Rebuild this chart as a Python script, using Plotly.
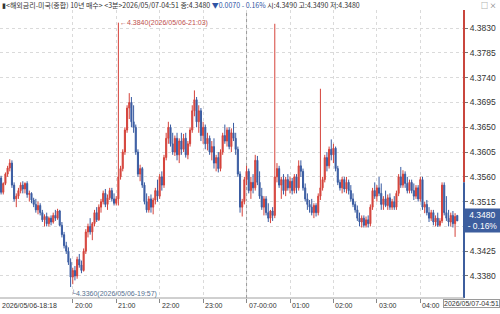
import numpy as np
import pandas as pd
import plotly.graph_objects as go

# ---------------- data ----------------
start_time = "2026-05-06 18:18"
n_bars = 212
prev_close = 4.3550

opens = [
    4.3545,4.3558,4.3532,4.3548,4.3565,4.3576,4.3585,4.3545,4.3520,4.3525,
    4.3535,4.3545,4.3538,4.3548,4.3528,4.3530,4.3518,4.3510,4.3500,4.3508,
    4.3495,4.3482,4.3488,4.3475,4.3485,4.3478,4.3490,4.3485,4.3498,4.3472,
    4.3455,4.3435,4.3425,4.3405,4.3378,4.3390,4.3380,4.3410,4.3400,4.3390,
    4.3425,4.3460,4.3470,4.3460,4.3475,4.3495,4.3482,4.3505,4.3515,4.3530,
    4.3510,4.3522,4.3535,4.3520,4.3512,4.3520,4.3560,4.3575,4.3605,4.3645,
    4.3685,4.3695,4.3660,4.3650,4.3605,4.3565,4.3575,4.3545,4.3515,4.3500,
    4.3520,4.3505,4.3518,4.3535,4.3525,4.3560,4.3545,4.3595,4.3630,4.3650,
    4.3620,4.3605,4.3630,4.3600,4.3625,4.3610,4.3630,4.3600,4.3620,4.3645,
    4.3680,4.3700,4.3660,4.3680,4.3635,4.3650,4.3620,4.3630,4.3605,4.3615,
    4.3585,4.3595,4.3575,4.3605,4.3635,4.3625,4.3645,4.3615,4.3640,4.3630,
    4.3610,4.3565,4.3505,4.3515,4.3555,4.3570,4.3535,4.3550,4.3540,4.3590,
    4.3550,4.3525,4.3505,4.3520,4.3495,4.3485,4.3498,4.3490,4.3560,4.3575,
    4.3545,4.3555,4.3535,4.3555,4.3540,4.3552,4.3535,4.3560,4.3540,4.3580,
    4.3570,4.3540,4.3520,4.3510,4.3505,4.3495,4.3508,4.3495,4.3525,4.3540,
    4.3555,4.3595,4.3580,4.3610,4.3600,4.3612,4.3575,4.3550,4.3540,4.3555,
    4.3538,4.3550,4.3535,4.3520,4.3510,4.3500,4.3485,4.3478,4.3485,4.3472,
    4.3482,4.3475,4.3505,4.3535,4.3525,4.3540,4.3530,4.3510,4.3520,4.3508,
    4.3522,4.3505,4.3515,4.3505,4.3530,4.3560,4.3545,4.3565,4.3548,4.3535,
    4.3550,4.3535,4.3525,4.3540,4.3520,4.3555,4.3505,4.3510,4.3495,4.3485,
    4.3495,4.3478,4.3485,4.3472,4.3480,4.3545,4.3495,4.3485,4.3478,4.3490,
    4.3475,4.3490,
]
highs = [
    4.3552,4.3562,4.3550,4.3568,4.3580,4.3592,4.3590,4.3550,4.3530,4.3540,
    4.3550,4.3552,4.3550,4.3552,4.3535,4.3532,4.3522,4.3520,4.3515,4.3512,
    4.3500,4.3492,4.3495,4.3488,4.3490,4.3495,4.3500,4.3502,4.3500,4.3478,
    4.3460,4.3442,4.3432,4.3412,4.3395,4.3398,4.3415,4.3420,4.3408,4.3430,
    4.3465,4.3475,4.3485,4.3478,4.3500,4.3505,4.3510,4.3520,4.3535,4.3538,
    4.3528,4.3540,4.3540,4.3530,4.3525,4.3840,4.3580,4.3610,4.3650,4.3690,
    4.3712,4.3705,4.3690,4.3655,4.3610,4.3582,4.3578,4.3550,4.3530,4.3525,
    4.3528,4.3522,4.3540,4.3555,4.3565,4.3570,4.3600,4.3640,4.3660,4.3655,
    4.3640,4.3635,4.3640,4.3630,4.3640,4.3638,4.3640,4.3625,4.3650,4.3690,
    4.3717,4.3705,4.3690,4.3685,4.3660,4.3655,4.3640,4.3635,4.3625,4.3630,
    4.3600,4.3605,4.3610,4.3640,4.3655,4.3650,4.3650,4.3648,4.3658,4.3640,
    4.3615,4.3570,4.3520,4.3560,4.3580,4.3575,4.3560,4.3565,4.3600,4.3598,
    4.3570,4.3540,4.3525,4.3525,4.3512,4.3500,4.3505,4.3838,4.3585,4.3580,
    4.3560,4.3565,4.3560,4.3565,4.3560,4.3558,4.3565,4.3565,4.3590,4.3590,
    4.3575,4.3548,4.3530,4.3518,4.3520,4.3512,4.3512,4.3530,4.3720,4.3560,
    4.3600,4.3605,4.3615,4.3628,4.3620,4.3615,4.3580,4.3555,4.3560,4.3560,
    4.3560,4.3555,4.3545,4.3530,4.3515,4.3508,4.3495,4.3490,4.3490,4.3488,
    4.3490,4.3510,4.3540,4.3550,4.3545,4.3560,4.3548,4.3525,4.3535,4.3528,
    4.3530,4.3520,4.3525,4.3535,4.3565,4.3578,4.3572,4.3570,4.3560,4.3555,
    4.3555,4.3548,4.3545,4.3545,4.3560,4.3560,4.3515,4.3518,4.3505,4.3500,
    4.3500,4.3490,4.3495,4.3485,4.3550,4.3550,4.3525,4.3500,4.3495,4.3498,
    4.3494,4.3490,
]
lows = [
    4.3535,4.3528,4.3528,4.3545,4.3560,4.3570,4.3540,4.3515,4.3505,4.3520,
    4.3530,4.3530,4.3530,4.3522,4.3515,4.3512,4.3505,4.3495,4.3492,4.3490,
    4.3478,4.3470,4.3470,4.3470,4.3472,4.3475,4.3480,4.3482,4.3470,4.3450,
    4.3430,4.3420,4.3400,4.3360,4.3365,4.3372,4.3375,4.3395,4.3385,4.3388,
    4.3420,4.3450,4.3455,4.3445,4.3470,4.3478,4.3480,4.3495,4.3510,4.3505,
    4.3500,4.3518,4.3515,4.3508,4.3508,4.3508,4.3555,4.3570,4.3600,4.3640,
    4.3665,4.3650,4.3640,4.3600,4.3560,4.3552,4.3540,4.3510,4.3495,4.3495,
    4.3495,4.3492,4.3510,4.3515,4.3520,4.3535,4.3540,4.3590,4.3620,4.3615,
    4.3600,4.3598,4.3590,4.3585,4.3600,4.3605,4.3595,4.3592,4.3615,4.3640,
    4.3670,4.3650,4.3640,4.3625,4.3620,4.3610,4.3608,4.3600,4.3590,4.3575,
    4.3570,4.3568,4.3570,4.3600,4.3620,4.3615,4.3610,4.3605,4.3625,4.3600,
    4.3560,4.3495,4.3488,4.3510,4.3545,4.3530,4.3520,4.3530,4.3535,4.3545,
    4.3520,4.3500,4.3490,4.3490,4.3478,4.3476,4.3480,4.3485,4.3550,4.3540,
    4.3520,4.3528,4.3525,4.3535,4.3530,4.3528,4.3530,4.3530,4.3535,4.3560,
    4.3535,4.3515,4.3500,4.3495,4.3490,4.3485,4.3488,4.3490,4.3518,4.3535,
    4.3550,4.3570,4.3575,4.3590,4.3585,4.3570,4.3545,4.3535,4.3530,4.3532,
    4.3530,4.3528,4.3515,4.3505,4.3495,4.3480,4.3470,4.3468,4.3468,4.3468,
    4.3468,4.3470,4.3500,4.3520,4.3515,4.3525,4.3500,4.3500,4.3505,4.3500,
    4.3500,4.3500,4.3500,4.3500,4.3525,4.3540,4.3540,4.3540,4.3530,4.3530,
    4.3530,4.3518,4.3520,4.3515,4.3515,4.3500,4.3494,4.3490,4.3478,4.3480,
    4.3472,4.3470,4.3469,4.3470,4.3476,4.3490,4.3480,4.3470,4.3470,4.3468,
    4.3451,4.3480,
]
closes = [
    4.3540,4.3532,4.3548,4.3565,4.3576,4.3585,4.3545,4.3520,4.3525,4.3535,
    4.3545,4.3538,4.3548,4.3528,4.3530,4.3518,4.3510,4.3500,4.3508,4.3495,
    4.3482,4.3488,4.3475,4.3485,4.3478,4.3490,4.3485,4.3498,4.3472,4.3455,
    4.3435,4.3425,4.3405,4.3378,4.3390,4.3380,4.3410,4.3400,4.3390,4.3425,
    4.3460,4.3470,4.3460,4.3475,4.3495,4.3482,4.3505,4.3515,4.3530,4.3510,
    4.3522,4.3535,4.3520,4.3512,4.3520,4.3560,4.3575,4.3605,4.3645,4.3685,
    4.3695,4.3660,4.3650,4.3605,4.3565,4.3575,4.3545,4.3515,4.3500,4.3520,
    4.3505,4.3518,4.3535,4.3525,4.3560,4.3545,4.3595,4.3630,4.3650,4.3620,
    4.3605,4.3630,4.3600,4.3625,4.3610,4.3630,4.3600,4.3620,4.3645,4.3680,
    4.3700,4.3660,4.3680,4.3635,4.3650,4.3620,4.3630,4.3605,4.3615,4.3585,
    4.3595,4.3575,4.3605,4.3635,4.3625,4.3645,4.3615,4.3640,4.3630,4.3610,
    4.3565,4.3505,4.3515,4.3555,4.3570,4.3535,4.3550,4.3540,4.3590,4.3550,
    4.3525,4.3505,4.3520,4.3495,4.3485,4.3498,4.3490,4.3560,4.3575,4.3545,
    4.3555,4.3535,4.3555,4.3540,4.3552,4.3535,4.3560,4.3540,4.3580,4.3570,
    4.3540,4.3520,4.3510,4.3505,4.3495,4.3508,4.3495,4.3525,4.3540,4.3555,
    4.3595,4.3580,4.3610,4.3600,4.3612,4.3575,4.3550,4.3540,4.3555,4.3538,
    4.3550,4.3535,4.3520,4.3510,4.3500,4.3485,4.3478,4.3485,4.3472,4.3482,
    4.3475,4.3505,4.3535,4.3525,4.3540,4.3530,4.3510,4.3520,4.3508,4.3522,
    4.3505,4.3515,4.3505,4.3530,4.3560,4.3545,4.3565,4.3548,4.3535,4.3550,
    4.3535,4.3525,4.3540,4.3520,4.3555,4.3505,4.3510,4.3495,4.3485,4.3495,
    4.3478,4.3485,4.3472,4.3480,4.3545,4.3495,4.3485,4.3478,4.3490,4.3475,
    4.3488,4.3480,
]
y_ticks = [4.3380, 4.3425, 4.3470, 4.3515, 4.3560, 4.3605, 4.3650,
           4.3695, 4.3740, 4.3785, 4.3830]
title_name = "해외금리-미국(종합) 10년 매수"
period_name = "3분"

# ---------------- derived ----------------
times = pd.date_range(start_time, periods=n_bars, freq="3min")
idx = list(range(n_bars))
FONT = "Liberation Sans, Noto Sans CJK KR, sans-serif"
HFONT = "Noto Sans CJK KR"
UP = "#D5433B"
DOWN = "#3A5CA2"

fig = go.Figure()
fig.add_trace(go.Candlestick(
    x=idx, open=opens, high=highs, low=lows, close=closes,
    increasing=dict(line=dict(color=UP, width=1), fillcolor=UP),
    decreasing=dict(line=dict(color=DOWN, width=1), fillcolor=DOWN),
    whiskerwidth=0, showlegend=False, hoverinfo="skip",
))

# hour ticks (the first, crowded by the start label, is skipped)
hour_idx = [i for i, t in enumerate(times) if t.minute == 0 and i >= 20]
day_idx = [i for i in hour_idx if times[i].hour == 0]

last_c, last_o, last_h, last_l = closes[-1], opens[-1], highs[-1], lows[-1]
chg = last_c - prev_close
pct = chg / prev_close * 100

XL = dict(family=FONT, size=7, color="#333")
ann = []
for i in hour_idx:
    t = times[i]
    lab = t.strftime("%d-%H:%M") if t.hour == 0 else t.strftime("%H:%M")
    ann.append(dict(x=i, xref="x", y=0, yref="paper", yanchor="top", xanchor="left",
                    xshift=0, yshift=-2, text=lab, showarrow=False, font=XL))
ann.append(dict(x=0, xref="paper", y=0, yref="paper", yanchor="top", xanchor="left",
                yshift=-2, text=times[0].strftime("%Y/%m/%d-%H:%M"), showarrow=False, font=XL))
ann.append(dict(x=1, xref="paper", xshift=36, y=0, yref="paper", yanchor="top", xanchor="right",
                yshift=-1, text=times[-1].strftime("%Y/%m/%d-%H:%M"), showarrow=False,
                bgcolor="white", bordercolor="#9A9A9A", borderwidth=1, borderpad=0, font=XL))

imax = int(np.argmax(highs))
imin = int(np.argmin(lows))
ann.append(dict(x=imax, y=highs[imax], xanchor="left", yanchor="middle", showarrow=False,
                text="←%.4f(%s)" % (highs[imax], times[imax].strftime("%Y/%m/%d-%H:%M")),
                font=dict(family=FONT, size=7, color="#C0504D")))
ann.append(dict(x=imin, y=lows[imin], xanchor="left", yanchor="top", showarrow=False, xshift=-2,
                text="└%.4f(%s)" % (lows[imin], times[imin].strftime("%Y/%m/%d-%H:%M")),
                font=dict(family=FONT, size=7, color="#56708F")))

arrow = "▼" if chg < 0 else "▲"
hdr_col = "#2F55A4" if chg < 0 else "#C0392B"
header = ("▮&lt;%s&gt; &lt;%s&gt;%s 종:%.4f <span style='color:%s'>%s%.4f - %.2f%%</span> "
          "시:%.4f 고:%.4f 저:%.4f") % (
    title_name, period_name, times[-1].strftime("%Y/%m/%d-%H:%M"), last_c,
    hdr_col, arrow, abs(chg), abs(pct), last_o, last_h, last_l)
ann.append(dict(x=0, xref="paper", y=1, yref="paper", yshift=5, xanchor="left",
                yanchor="middle", showarrow=False, text=header,
                font=dict(family=HFONT, size=7, color="#333")))
ann.append(dict(x=1, xref="paper", xshift=35, y=1, yref="paper", yshift=5, xanchor="right",
                yanchor="middle", showarrow=False, text="□ ×",
                font=dict(family=HFONT, size=7, color="#666")))

ann.append(dict(x=1, xref="paper", y=last_c, yref="y", xanchor="left", yanchor="middle",
                showarrow=False, text="%.4f<br>- %.2f%%" % (last_c, abs(pct)),
                bgcolor="#3D5E9E", borderpad=1, width=33, align="center",
                font=dict(family=FONT, size=8.5, color="white")))

shapes = []
for i in day_idx:
    shapes.append(dict(type="line", xref="x", yref="paper", x0=i, x1=i, y0=0, y1=1,
                       line=dict(color="#9A9A9A", width=1, dash="dot"), layer="below"))
shapes.append(dict(type="line", xref="paper", yref="y", x0=1, x1=1, y0=prev_close, y1=4.3863,
                   line=dict(color="#C9463D", width=2)))
shapes.append(dict(type="line", xref="paper", yref="y", x0=1, x1=1, y0=4.3340, y1=prev_close,
                   line=dict(color="#3D5E9E", width=2)))
shapes.append(dict(type="line", xref="paper", yref="paper", x0=0, x1=1, y0=0, y1=0,
                   line=dict(color="#A0A0A0", width=1)))

# label hidden behind the current-price box is left blank
box_lo, box_hi = last_c - 0.0012, last_c + 0.0012
y_text = ["" if box_lo <= v <= box_hi else "%.4f" % v for v in y_ticks]

fig.update_layout(
    width=500, height=314,
    margin=dict(l=0, r=36, t=10, b=16),
    paper_bgcolor="white", plot_bgcolor="white",
    font=dict(family=FONT, size=9, color="#333"),
    annotations=ann, shapes=shapes,
    xaxis=dict(range=[0.5, 214.1], rangeslider=dict(visible=False),
               tickvals=hour_idx, showticklabels=False, ticks="outside", ticklen=4,
               tickcolor="#888", showgrid=True, gridcolor="#DADADA", griddash="dot",
               gridwidth=1, zeroline=False, showline=False, fixedrange=True),
    yaxis=dict(range=[4.3340, 4.3863], side="right", tickvals=y_ticks,
               ticktext=y_text, ticks="outside", ticklen=3,
               tickcolor="#777", tickfont=dict(family=FONT, size=8.5, color="#333"),
               showgrid=True, gridcolor="#DADADA", griddash="dot", gridwidth=1,
               zeroline=False, showline=False),
)

fig.write_html("out.html")
